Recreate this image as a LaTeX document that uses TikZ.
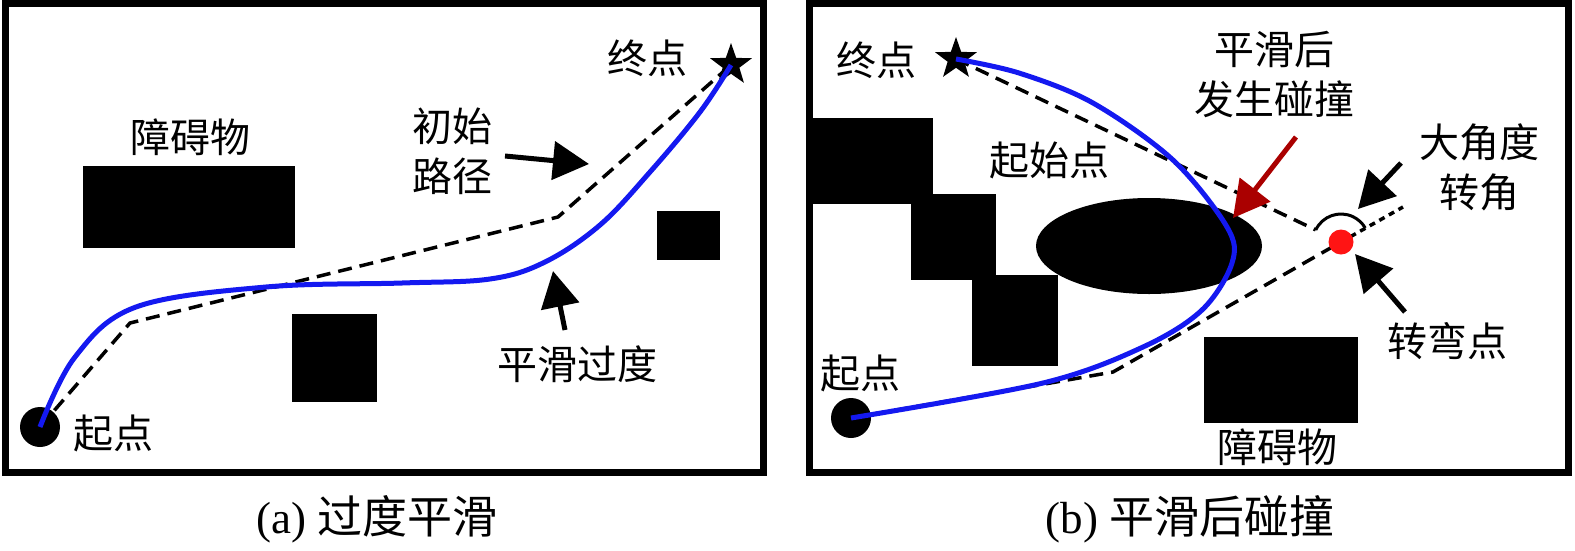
\documentclass[tikz,border=0pt]{standalone}
\usepackage{fontspec}
\setmainfont{Liberation Serif}
\newfontfamily\cjk{Noto Sans CJK SC}
\usetikzlibrary{arrows.meta,shapes.geometric,calc}
\definecolor{pathblue}{RGB}{20,25,240}
\definecolor{arrowred}{RGB}{170,0,0}
\definecolor{dotred}{RGB}{255,20,20}
\begin{document}
\begin{tikzpicture}[x=1pt,y=-1pt,
  frame/.style={draw=black,line width=7pt},
  obst/.style={fill=black},
  lbl/.style={font=\cjk\fontsize{40}{50}\selectfont, inner sep=0pt, align=center},
  captext/.style={font=\rmfamily\fontsize{45}{54}\selectfont, inner sep=0pt},
  initpath/.style={draw=black, line width=3.5pt, dash pattern=on 14pt off 8pt},
  dotpath/.style={draw=black, line width=3.5pt, dash pattern=on 6pt off 5pt},
  smoothpath/.style={draw=pathblue, line width=5pt},
  pointer/.style={line width=5pt, -{Triangle[length=36pt,width=38pt]}},
  startdot/.style={circle, fill=black, minimum size=40pt, inner sep=0pt},
  goal/.style={star, star points=5, star point ratio=2.5, fill=black, minimum size=44pt, inner sep=0pt},
]
\useasboundingbox (0,0) rectangle (1575,550);
% ---------- panel (a)
\draw[frame] (5.5,3.5) rectangle (763.5,472.5);
\fill[obst] (83,166) rectangle (295,248);
\fill[obst] (292,314) rectangle (377,402);
\fill[obst] (657,211) rectangle (720,260);
\node[startdot] (sa) at (40,427) {};
\node[goal] (ga) at (731,65) {};
\coordinate (ca1) at (130,323);
\coordinate (ca2) at (558,217);
\draw[initpath] (sa.center) -- (ca1) -- (ca2) -- (ga.center);
\draw[smoothpath] plot[smooth, tension=0.6] coordinates {(sa.center) (75,357) (136,307) (266,287) (402,283) (490,279) (545,262) (600,225) (650,172) (700,112) (ga.center)};
\node[lbl] (obsa) at (190,137) {障碍物};
\node[lbl] (enda) at (647,58) {终点};
\node[lbl] (inita) at (452,151.5) {初始\\路径};
\node[lbl] (smootha) at (577,364) {平滑过度};
\node[lbl] (starta) at (113,433) {起点};
\coordinate (p1s) at (505,156);
\coordinate (p1e) at (589,164);
\draw[pointer] (p1s) -- (p1e);
\coordinate (p2s) at (565,330);
\coordinate (p2e) at (553,271);
\draw[pointer] (p2s) -- (p2e);
\node[captext] (capa) at (377,519) {(a) {\cjk 过度平滑}};
% ---------- panel (b)
\draw[frame] (809,3.5) rectangle (1568,472.5);
\fill[obst] (809,118) rectangle (933,204);
\fill[obst] (911,194) rectangle (996,280);
\fill[obst] (972,275) rectangle (1058,366);
\fill[obst] (1149,246) ellipse[x radius=113pt, y radius=48pt];
\fill[obst] (1204,337) rectangle (1358,423);
\node[startdot] (sb) at (851,418) {};
\node[goal] (gb) at (956,59) {};
\coordinate (V) at (1341,242);
\coordinate (cb) at (1113,372);
\coordinate (as) at ($(V)+(154.4:28pt)$);
\coordinate (ext) at (1403,207);
\draw[initpath] (gb.center) -- (as);
\draw[line width=3pt] (as) arc[start angle=154.4, end angle=30, radius=28pt];
\draw[initpath] (sb.center) -- (cb) -- (V);
\draw[dotpath] (V) -- (ext);
\draw[smoothpath] plot[smooth, tension=0.55] coordinates {(sb.center) (1043,383) (1143,347) (1202,310) (1232,263) (1227,227) (1173,160) (1093,103) (1019,73) (gb.center)};
\node[circle, fill=dotred, minimum size=25pt, inner sep=0pt] (turn) at (V) {};
\coordinate (r1s) at (1296,137);
\coordinate (r1e) at (1233,218);
\draw[pointer, color=arrowred] (r1s) -- (r1e);
\coordinate (b1s) at (1401,163);
\coordinate (b1e) at (1358,209);
\draw[pointer] (b1s) -- (b1e);
\coordinate (b2s) at (1405,312);
\coordinate (b2e) at (1355,254);
\draw[pointer] (b2s) -- (b2e);
\node[lbl] (endb) at (876,60) {终点};
\node[lbl] (collb) at (1274,74.5) {平滑后\\发生碰撞};
\node[lbl] (initb) at (1049,160) {起始点};
\node[lbl] (angb) at (1479,167) {大角度\\转角};
\node[lbl] (turnb) at (1447,341) {转弯点};
\node[lbl] (startb) at (860,373) {起点};
\node[lbl] (obsb) at (1277,447) {障碍物};
\node[captext] (capb) at (1190,519) {(b) {\cjk 平滑后碰撞}};
\end{tikzpicture}
\end{document}
